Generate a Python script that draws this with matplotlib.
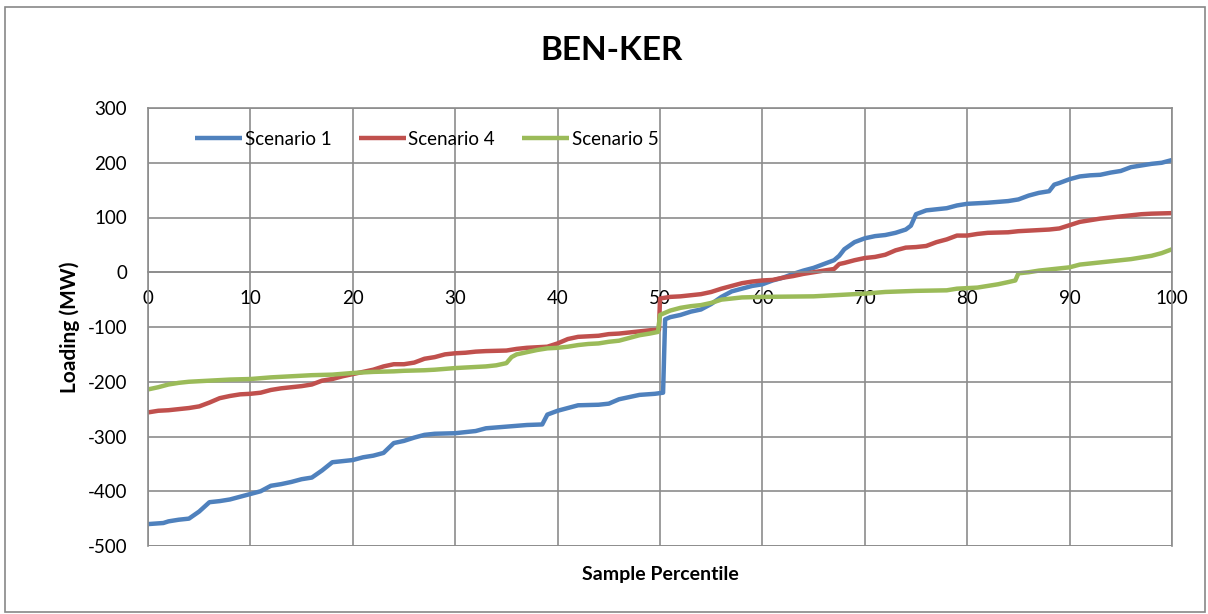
import matplotlib
matplotlib.use("Agg")
import matplotlib.pyplot as plt
from matplotlib.patches import Rectangle

plt.rcParams['font.family'] = ['Lato', 'DejaVu Sans']
plt.rcParams['axes.unicode_minus'] = False

title = "BEN-KER"
x_label = "Sample Percentile"
y_label = "Loading (MW)"
series_names = ["Scenario 1", "Scenario 4", "Scenario 5"]
colors = ["#4F81BD", "#C0504D", "#9BBB59"]

s1_x = [0, 1.5, 2, 3, 4, 5, 6, 7, 8, 9, 10, 11, 12, 13, 14, 15, 16, 17, 18, 19, 20,
        21, 22, 23, 24, 25, 26, 27, 28, 30, 32, 33, 35, 37, 38.5, 39, 40, 41, 42, 44,
        45, 46, 47, 48, 49.5, 50.3, 50.5, 51, 52, 53, 54, 55, 56, 57, 58, 59, 60, 61,
        62, 63, 64, 65, 66, 67, 67.5, 68, 69, 70, 71, 72, 73, 74, 74.5, 75, 76, 77, 78,
        79, 80, 82, 84, 85, 86, 87, 88, 88.5, 89, 90, 91, 92, 93, 94, 95, 96, 97, 98,
        99, 100]
s1_y = [-460, -458, -455, -452, -450, -437, -420, -418, -415, -410, -405, -400, -390,
        -387, -383, -378, -375, -362, -347, -345, -343, -338, -335, -330, -312, -308,
        -302, -297, -295, -294, -290, -285, -282, -279, -278, -260, -253, -248, -243,
        -242, -240, -232, -228, -224, -222, -220, -86, -82, -78, -72, -68, -58, -45,
        -35, -30, -25, -22, -15, -10, -3, 3, 8, 15, 22, 30, 42, 55, 62, 66, 68, 72, 78,
        85, 106, 113, 115, 117, 122, 125, 127, 130, 133, 140, 145, 148, 160, 163, 170,
        175, 177, 178, 182, 185, 192, 195, 198, 200, 205]

s4_x = [0, 1, 2, 3, 4, 5, 6, 7, 8, 9, 10, 11, 12, 13, 14, 15, 16, 17, 18, 19, 20, 21,
        22, 23, 24, 25, 26, 27, 28, 29, 30, 31, 32, 33, 35, 36, 37, 38, 39, 40, 41, 42,
        43, 44, 45, 46, 47, 48, 49, 49.9, 50, 51, 52, 53, 54, 55, 56, 57, 58, 59, 60,
        61, 62, 63, 64, 65, 66, 67, 67.5, 68, 69, 70, 71, 72, 73, 74, 75, 76, 77, 78,
        79, 80, 81, 82, 84, 85, 86, 87, 88, 89, 90, 91, 92, 93, 94, 95, 96, 97, 98, 100]
s4_y = [-256, -253, -252, -250, -248, -245, -238, -230, -226, -223, -222, -220, -215,
        -212, -210, -208, -205, -198, -195, -190, -186, -182, -178, -172, -168, -168,
        -165, -158, -155, -150, -148, -147, -145, -144, -143, -140, -138, -137, -136,
        -130, -122, -118, -117, -116, -113, -112, -110, -108, -106, -105, -48, -45, -44,
        -42, -40, -36, -30, -25, -20, -17, -15, -14, -10, -7, -3, 0, 3, 6, 15, 17, 22,
        26, 28, 32, 40, 45, 46, 48, 55, 60, 67, 67, 70, 72, 73, 75, 76, 77, 78, 80, 86,
        92, 95, 98, 100, 102, 104, 106, 107, 108]

s5_x = [0, 1, 2, 3, 4, 6, 8, 10, 12, 14, 16, 18, 20, 22, 24, 25, 27, 28, 30, 32, 33,
        34, 35, 35.5, 36, 37, 38, 39, 40, 41, 42, 43, 44, 45, 46, 47, 48, 49, 49.8, 50,
        51, 52, 53, 54, 55, 56, 57, 58, 60, 65, 67, 70, 72, 75, 78, 79, 81, 82, 83, 84,
        84.7, 85, 86, 87, 88, 89, 90, 91, 92, 93, 94, 95, 96, 97, 98, 99, 100]
s5_y = [-214, -210, -205, -202, -200, -198, -196, -195, -192, -190, -188, -187, -184,
        -182, -181, -180, -179, -178, -175, -173, -172, -170, -166, -155, -150, -146,
        -142, -139, -138, -136, -133, -131, -130, -127, -125, -120, -115, -112, -109,
        -78, -70, -65, -62, -60, -56, -50, -48, -46, -45, -44, -42, -39, -36, -34, -33,
        -30, -28, -25, -22, -18, -15, -2, 0, 3, 5, 7, 9, 14, 16, 18, 20, 22, 24, 27,
        30, 35, 42]

x_ticks = list(range(0, 101, 10))
y_ticks = list(range(-500, 301, 100))

fig = plt.figure(figsize=(12.08, 6.14), dpi=100)
fig.patches.append(Rectangle((5/1208, 0.003), 1200/1208, 1 - 7/614 - 0.003,
                             transform=fig.transFigure, fill=False,
                             edgecolor="#888888", linewidth=1.2))
ax = fig.add_axes([148/1208, 1 - 546/614, (1172 - 148)/1208, (546 - 108)/614])

for xs, ys, name, c in zip([s1_x, s4_x, s5_x], [s1_y, s4_y, s5_y], series_names, colors):
    ax.plot(xs, ys, color=c, linewidth=3.2, label=name, solid_capstyle='butt')

ax.set_xlim(0, 100)
ax.set_ylim(-500, 300)
ax.set_xticks(x_ticks)
ax.set_yticks(y_ticks)
ax.grid(True, color="#8c8c8c", linewidth=1.2)
ax.set_axisbelow(True)
for s in ax.spines.values():
    s.set_color("#8c8c8c")
    s.set_linewidth(1.2)
ax.spines['bottom'].set_position(('data', 0))
ax.axhline(-500, color="#8c8c8c", linewidth=1.2, zorder=0)
ax.tick_params(axis='both', length=0, labelsize=13.5, colors="black")
ax.tick_params(axis='x', pad=13)
ax.tick_params(axis='y', pad=15)

fig.text(612/1208, 1 - 50/614, title, fontsize=24, fontweight='bold',
         ha='center', va='center')
ax.set_xlabel(x_label, fontsize=14, fontweight='bold')
ax.xaxis.set_label_coords(0.5, -0.045)
ax.set_ylabel(y_label, fontsize=15, fontweight='bold')
ax.yaxis.set_label_coords(-0.066, 0.5)

ax.legend(loc='center left', bbox_to_anchor=(0.046, 0.928), ncol=3, frameon=False,
          fontsize=13.5, handlelength=2.5, handletextpad=0.15, columnspacing=1.45,
          borderaxespad=0, borderpad=0)

fig.savefig("out.png", dpi=100)
